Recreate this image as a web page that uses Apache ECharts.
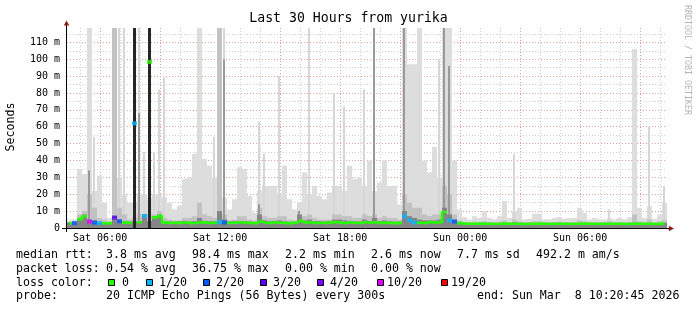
<!DOCTYPE html>
<html><head><meta charset="utf-8">
<script src="https://cdn.jsdelivr.net/npm/echarts@6/dist/echarts.min.js"></script>
<style>html,body{margin:0;padding:0;background:#fff}#c{width:697px;height:310px}</style>
</head><body><div id="c"></div>
<script>
// ---- data (15-minute bins, Sat 04:20:45 .. Sun 10:20:45), values in ms ----
// light smoke (spread of the 20 pings), bin-wide
const SMOKE_MAX = [
  4.5, 5, 35, 32, 120, 22, 31, 15, 6, 25,
  30, 20, 15, 15, 20, 20, 18, 20, 20, 18,
  15, 11, 13, 29, 30, 44, 120, 41, 37, 30,
  25, 18, 11, 17, 36, 35, 19, 9, 22, 25,
  25, 25, 20, 37, 17, 11, 15, 33, 20, 25,
  19, 17, 21, 25, 25, 22, 37, 29, 30, 25,
  40, 22, 27, 40, 25, 25, 14, 120, 97, 97,
  120, 40, 33, 48, 30, 120, 120, 40, 11, 6.5,
  5, 7, 6, 10, 6, 5, 7, 16, 6, 10,
  12, 5, 5.5, 8.5, 8.5, 5, 5, 6, 6.5, 5.5,
  6, 6, 12, 9, 5, 6, 5, 5, 6, 5,
  6, 5, 6.5, 106, 12, 6, 13, 5.5, 8, 15
];
// narrow light spikes (single outlying pings)
const SPIKE_MAX = [
  0, 0, 0, 0, 0, 54, 0, 0, 0, 0,
  120, 120, 0, 0, 120, 45, 0, 45, 82, 89,
  0, 0, 0, 0, 0, 0, 0, 0, 0, 54,
  0, 120, 0, 0, 0, 0, 0, 0, 63, 44,
  0, 0, 90, 0, 0, 0, 0, 0, 120, 0,
  0, 0, 0, 80, 0, 72, 0, 0, 0, 82,
  0, 0, 0, 0, 0, 0, 0, 0, 0, 0,
  0, 0, 0, 0, 100, 0, 0, 0, 0, 0,
  0, 0, 0, 0, 0, 0, 0, 0, 0, 44,
  0, 0, 0, 0, 0, 0, 0, 0, 0, 0,
  0, 0, 0, 0, 0, 0, 0, 0, 11, 0,
  0, 0, 0, 0, 0, 0, 60, 0, 0, 25
];
const SMOKE_MID = [
  3.5, 3.8, 8, 10, 20, 12, 6, 5, 3.8, 120,
  12, 8, 5, 6, 8, 8, 8, 8, 10, 6,
  5, 4.5, 4.5, 6, 6, 7, 15, 8, 7, 6,
  120, 8, 4.5, 5, 7, 7, 5, 4.5, 12, 7,
  6, 6, 7, 7, 5, 4.5, 6, 7, 8, 6,
  5, 5, 5, 8, 8, 7, 7, 6, 6, 8,
  7, 8, 6, 7, 6, 6, 5, 20, 15, 12,
  12, 8, 7, 8, 8, 25, 20, 8, 4.5, 3.5,
  3.5, 3.8, 3.5, 4, 3.5, 3.5, 3.8, 4.5, 3.5, 5,
  4, 3.5, 3.5, 4, 4, 3.5, 3.5, 3.5, 3.8, 3.5,
  3.5, 3.5, 4.5, 4, 3.5, 3.5, 3.5, 3.5, 4, 3.5,
  3.5, 3.5, 3.5, 8, 4, 3.5, 5, 3.5, 4, 4.5
];
const SPIKE_MID = [
  0, 0, 0, 0, 34, 0, 0, 0, 0, 0,
  0, 0, 0, 0, 68, 0, 0, 0, 0, 0,
  0, 0, 0, 0, 0, 0, 0, 0, 0, 0,
  0, 100, 0, 0, 0, 0, 0, 0, 14, 0,
  0, 0, 0, 0, 0, 0, 10, 0, 0, 0,
  0, 0, 0, 0, 0, 0, 0, 0, 0, 0,
  0, 120, 0, 0, 0, 0, 0, 120, 0, 0,
  0, 0, 0, 0, 0, 120, 96, 0, 0, 0,
  0, 0, 0, 0, 0, 0, 0, 0, 0, 0,
  0, 0, 0, 0, 0, 0, 0, 0, 0, 0,
  0, 0, 0, 0, 0, 0, 0, 0, 0, 0,
  0, 0, 0, 0, 0, 0, 0, 0, 0, 0
];
const SMOKE_DARK = [
  3.2, 3.3, 6, 8, 5, 4.5, 3.6, 3.4, 3.4, 7,
  5, 4, 3.8, 4, 4, 8, 4, 7, 8, 4,
  3.8, 3.8, 3.8, 4.2, 3.8, 4, 6, 4.2, 4, 4,
  10, 5, 3.8, 4, 4.2, 4, 3.8, 3.6, 8, 4.5,
  4, 4.2, 4.5, 4, 3.6, 3.8, 8, 4.5, 5, 4,
  4, 3.8, 4.2, 5, 5, 4.5, 4.2, 4, 3.8, 5,
  4, 6, 4, 4.5, 4, 3.8, 3.8, 10, 7, 6,
  5, 4.5, 4.5, 4.5, 5, 12, 8, 5, 3.6, 3,
  2.8, 2.9, 2.8, 3.1, 2.8, 2.8, 2.9, 3.1, 2.8, 3.2,
  2.9, 2.8, 2.8, 2.9, 2.9, 2.8, 2.8, 2.8, 2.9, 2.8,
  2.8, 2.8, 3.1, 2.9, 2.8, 2.8, 2.8, 2.8, 3, 2.8,
  2.8, 2.8, 2.8, 3.2, 2.9, 2.8, 3.1, 2.8, 2.9, 3.1
];
const SPIKE_CORE = [
  0, 0, 0, 0, 0, 0, 0, 0, 0, 0,
  0, 0, 0, 120, 0, 0, 120, 0, 0, 0,
  0, 0, 0, 0, 0, 0, 0, 0, 0, 0,
  0, 0, 0, 0, 0, 0, 0, 0, 0, 0,
  0, 0, 0, 0, 0, 0, 0, 0, 0, 0,
  0, 0, 0, 0, 0, 0, 0, 0, 0, 0,
  0, 0, 0, 0, 0, 0, 0, 0, 0, 0,
  0, 0, 0, 0, 0, 0, 0, 0, 0, 0,
  0, 0, 0, 0, 0, 0, 0, 0, 0, 0,
  0, 0, 0, 0, 0, 0, 0, 0, 0, 0,
  0, 0, 0, 0, 0, 0, 0, 0, 0, 0,
  0, 0, 0, 0, 0, 0, 0, 0, 0, 0
];
const MEDIAN = [
  2.9, 2.9, 5.2, 7.0, 3.8, 3.2, 2.9, 2.8, 2.9, 6.2,
  4.0, 3.2, 3.0, 62, 3.4, 7.2, 98.4, 6.3, 7.3, 3.2,
  3.0, 3.1, 3.0, 3.3, 2.9, 3.0, 3.4, 3.2, 3.0, 3.1,
  3.6, 3.3, 3.0, 3.2, 3.4, 3.1, 3.0, 2.9, 3.8, 3.2,
  3.0, 3.3, 3.1, 3.0, 2.9, 3.1, 4.2, 3.2, 3.4, 3.0,
  3.1, 3.0, 3.3, 3.5, 3.2, 3.0, 3.3, 3.1, 3.0, 3.4,
  3.1, 3.4, 3.0, 3.2, 3.0, 2.9, 3.0, 7.0, 4.5, 3.3,
  3.1, 3.0, 3.5, 3.2, 3.4, 9.5, 4.5, 3.8, 2.9, 2.6,
  2.5, 2.5, 2.6, 2.5, 2.5, 2.4, 2.5, 2.6, 2.5, 2.5,
  2.5, 2.4, 2.5, 2.5, 2.6, 2.5, 2.4, 2.5, 2.5, 2.5,
  2.4, 2.5, 2.5, 2.6, 2.5, 2.5, 2.4, 2.5, 2.5, 2.5,
  2.5, 2.4, 2.5, 2.6, 2.5, 2.5, 2.5, 2.4, 2.5, 2.6
];
const LOSS = [ // lost pings out of 20
  0, 2, 0, 0, 10, 2, 1, 0, 0, 3,
  2, 0, 0, 1, 0, 1, 0, 0, 0, 0,
  0, 0, 0, 0, 0, 0, 0, 0, 0, 0,
  1, 2, 0, 0, 0, 0, 0, 0, 0, 0,
  0, 0, 0, 0, 0, 0, 0, 0, 0, 0,
  0, 0, 0, 0, 0, 0, 0, 0, 0, 0,
  0, 0, 0, 0, 0, 0, 0, 1, 1, 1,
  0, 0, 0, 0, 0, 0, 1, 2, 0, 0,
  0, 0, 0, 0, 0, 0, 0, 0, 0, 0,
  0, 0, 0, 0, 0, 0, 0, 0, 0, 0,
  0, 0, 0, 0, 0, 0, 0, 0, 0, 0,
  0, 0, 0, 0, 0, 0, 0, 0, 0, 0
];
const START_HOUR = 4.345833;   // Sat 04:20:45
const END_HOUR = 34.345833;    // Sun 10:20:45
const HOUR_TICKS = [5,6,7,8,9,10,11,12,13,14,15,16,17,18,19,20,21,22,23,24,25,26,27,28,29,30,31,32,33,34];
const X_TICK_HOURS = [6, 12, 18, 24, 30];
const X_TICK_LABELS = ['Sat 06:00', 'Sat 12:00', 'Sat 18:00', 'Sun 00:00', 'Sun 06:00'];
const Y_MAX = 118.5;

const TITLE = 'Last 30 Hours from yurika';
const Y_NAME = 'Seconds';
const WATERMARK = 'RRDTOOL / TOBI OETIKER';
const RTT_TEXT = ['median rtt:', '3.8 ms avg', '98.4 ms max', '2.2 ms min', '2.6 ms now', '7.7 ms sd', '492.2 m am/s'];
const LOSS_TEXT = ['packet loss:', '0.54 % avg', '36.75 % max', '0.00 % min', '0.00 % now'];
const LOSS_COLOR_TITLE = 'loss color:';
const LOSS_KEYS = [0, 1, 2, 3, 4, 10, 19];
const LOSS_LABELS = ['0', '1/20', '2/20', '3/20', '4/20', '10/20', '19/20'];
const PROBE_TEXT = ['probe:', '20 ICMP Echo Pings (56 Bytes) every 300s', 'end: Sun Mar  8 10:20:45 2026'];

// ---- styles / layout ----
const LOSS_COLORS = ['#26ff00', '#00b8ff', '#0059ff', '#5e00ff', '#7e00ff', '#dd00ff', '#ff0000'];
const MONO = '"DejaVu Sans Mono", monospace';
const RTT_X = [16, 106, 192, 285, 371, 457, 536];
const LOSS_X = [16, 106, 192, 285, 371];
const SQ_X = [108.5, 146.5, 203.5, 260.5, 317.5, 377.5, 441.5];
const SQ_LABEL_X = [122, 159, 216, 273, 330, 387, 451];
const PROBE_X = [16, 106, 477];

function lossColor(l) {
  let idx = 0;
  for (let k = 0; k < LOSS_KEYS.length; k++) if (l >= LOSS_KEYS[k]) idx = k;
  return LOSS_COLORS[idx];
}

const cats = SMOKE_MAX.map((_, i) => i);
const greenLine = MEDIAN.map((v, i) => (LOSS[i] === 0 && v < 20) ? v : null);
const marks = [];
MEDIAN.forEach((v, i) => {
  if (LOSS[i] > 0 || v >= 20) marks.push({ value: [i, v], itemStyle: { color: lossColor(LOSS[i]) } });
});

function bar(data, color, axis, width) {
  const s = {
    type: 'bar', data, xAxisIndex: axis, yAxisIndex: 0, silent: true,
    barGap: '-100%', barCategoryGap: '0%', itemStyle: { color }, animation: false
  };
  if (width) s.barWidth = width;
  return s;
}

const graphic = [];
function txt(text, x, y) {
  graphic.push({ type: 'text', x, y, silent: true,
    style: { text, font: '11.6px ' + MONO, fill: '#000', align: 'left', verticalAlign: 'middle' } });
}
graphic.push({ type: 'text', x: 348.5, y: 19, style: { text: TITLE, font: '13.2px ' + MONO, fill: '#000', align: 'center', verticalAlign: 'middle' } });
graphic.push({ type: 'text', x: 11, y: 127, rotation: Math.PI / 2, style: { text: Y_NAME, font: '11.6px ' + MONO, fill: '#000', align: 'center', verticalAlign: 'middle' } });
graphic.push({ type: 'text', x: 687.5, y: 60, rotation: -Math.PI / 2, style: { text: WATERMARK, font: '8.3px ' + MONO, fill: '#b4b4b4', align: 'center', verticalAlign: 'middle' } });
graphic.push({ type: 'line', shape: { x1: 62, y1: 228.5, x2: 669, y2: 228.5 }, style: { stroke: '#000', lineWidth: 1 }, z: 10 });
graphic.push({ type: 'line', shape: { x1: 66.5, y1: 232, x2: 66.5, y2: 24 }, style: { stroke: '#000', lineWidth: 1 }, z: 10 });
graphic.push({ type: 'polygon', shape: { points: [[63.8, 25.5], [69.3, 25.5], [66.5, 20.5]] }, style: { fill: '#8b1c1c' }, z: 10 });
graphic.push({ type: 'polygon', shape: { points: [[668.8, 225.8], [668.8, 231.2], [674, 228.5]] }, style: { fill: '#8b1c1c' }, z: 10 });
RTT_TEXT.forEach((t, i) => txt(t, RTT_X[i], 255));
LOSS_TEXT.forEach((t, i) => txt(t, LOSS_X[i], 268.5));
txt(LOSS_COLOR_TITLE, 16, 282.5);
LOSS_LABELS.forEach((t, i) => {
  graphic.push({ type: 'rect', shape: { x: SQ_X[i], y: 279.5, width: 6, height: 6 }, style: { fill: LOSS_COLORS[i], stroke: '#000', lineWidth: 1 } });
  txt(t, SQ_LABEL_X[i], 282.5);
});
PROBE_TEXT.forEach((t, i) => txt(t, PROBE_X[i], 296));

const chart = echarts.init(document.getElementById('c'), null, { renderer: 'canvas' });
chart.setOption({
  backgroundColor: '#ffffff',
  animation: false,
  grid: { left: 67, top: 28, width: 600, height: 200, containLabel: false },
  xAxis: [
    { type: 'category', data: cats, show: false, boundaryGap: true },
    { type: 'value', position: 'bottom', min: START_HOUR, max: END_HOUR,
      axisLine: { show: false },
      axisTick: { show: false, customValues: HOUR_TICKS },
      axisLabel: { customValues: X_TICK_HOURS, margin: 5, color: '#000', fontFamily: MONO, fontSize: 10,
        formatter: v => { const k = X_TICK_HOURS.indexOf(Math.round(v)); return k >= 0 ? X_TICK_LABELS[k] : ''; } },
      splitLine: { show: true, lineStyle: { type: [1, 2], width: 1, color: ['#cfcfcf', '#e6a0a0', '#cfcfcf'] } }
    },
    { type: 'category', data: cats, show: false, boundaryGap: true }
  ],
  yAxis: {
    type: 'value', min: 0, max: Y_MAX, interval: 5,
    axisLine: { show: false }, axisTick: { show: false },
    axisLabel: { margin: 7, color: '#000', fontFamily: MONO, fontSize: 10, showMaxLabel: false,
      formatter: v => (Math.abs(v % 10) > 1e-6) ? '' : (v === 0 ? '0' : v + ' m') },
    splitLine: { show: true, showMaxLine: false, lineStyle: { type: [1, 2], width: 1, color: ['#e6a0a0', '#cfcfcf'] } }
  },
  series: [
    bar(SMOKE_MAX, '#dddddd', 0),
    bar(SPIKE_MAX, '#d6d6d6', 2, 2),
    bar(SMOKE_MID, '#c2c2c2', 0),
    bar(SPIKE_MID, '#999999', 2, 2),
    bar(SMOKE_DARK, '#858585', 0),
    bar(SPIKE_CORE, '#262626', 2, 3),
    { type: 'line', data: greenLine, xAxisIndex: 0, yAxisIndex: 0, step: 'middle', showSymbol: false,
      connectNulls: false, silent: true, lineStyle: { color: LOSS_COLORS[0], width: 2.6 }, z: 5 },
    { type: 'scatter', data: marks, xAxisIndex: 0, yAxisIndex: 0, symbol: 'rect', symbolSize: [5, 4], silent: true, z: 6 }
  ],
  graphic
});
</script></body></html>
